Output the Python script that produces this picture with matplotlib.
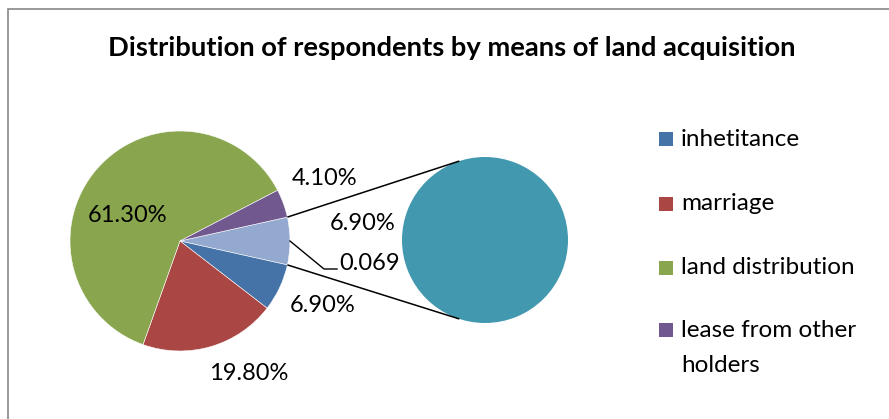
import matplotlib
matplotlib.use("Agg")
import matplotlib.pyplot as plt
from matplotlib.patches import Rectangle
import numpy as np

# ---- data ----
categories = ["inhetitance", "marriage", "land distribution", "lease from other\nholders"]
values = [6.9, 19.8, 61.3, 4.1]
value_labels = ["6.90%", "19.80%", "61.30%", "4.10%"]
other_value = 6.9
other_pct_label = "6.90%"
secondary_label = "0.069"

colors = ["#4572A7", "#AA4643", "#89A54E", "#71588F"]
other_color = "#93A9CF"
secondary_color = "#4198AF"

title = "Distribution of respondents by means of land acquisition"

plt.rcParams["font.family"] = ["Lato", "DejaVu Sans"]

W, H = 889, 419
fig = plt.figure(figsize=(W / 100, H / 100), dpi=100)
ax = fig.add_axes([0, 0, 1, 1])

# geometry in pixel units (y upwards)
main_c = (180, 178)
main_r = 110
sec_c = (485, 179)
sec_r = 83

# main pie: "other" slice first, centred on the right-hand side, clockwise
sizes = [other_value] + values
total = sum(sizes)
other_span = other_value / total * 360.0
start = other_span / 2.0
ax.pie(sizes, colors=[other_color] + colors, startangle=start,
       counterclock=False, center=main_c, radius=main_r,
       wedgeprops=dict(edgecolor="white", linewidth=0.4))

# secondary pie holding the "other" part
ax.pie([other_value], colors=[secondary_color], startangle=90,
       center=sec_c, radius=sec_r, wedgeprops=dict(linewidth=0))

# connector lines between the two pies
for sgn in (1, -1):
    a_main = np.deg2rad(sgn * start)
    a_sec = np.deg2rad(sgn * 108)
    p0 = (main_c[0] + main_r * np.cos(a_main), main_c[1] + main_r * np.sin(a_main))
    p1 = (sec_c[0] + sec_r * np.cos(a_sec), sec_c[1] + sec_r * np.sin(a_sec))
    ax.plot([p0[0], p1[0]], [p0[1], p1[1]], color="black", lw=1.1,
            solid_capstyle="butt")

# data labels
lab_fs = 17
label_pos = [(323, 113), (248.5, 46), (127.5, 203.5), (325, 240)]
for txt, (x, y) in zip(value_labels, label_pos):
    ax.text(x, y, txt, fontsize=lab_fs, ha="center", va="center", color="black")
ax.text(363, 195.5, other_pct_label, fontsize=lab_fs, ha="center", va="center")

# leader line + label for the secondary pie
lead = [(main_c[0] + main_r, main_c[1]), (324, 150), (337, 150)]
ax.plot([p[0] for p in lead], [p[1] for p in lead], color="black", lw=1.0)
ax.text(339, 155.5, secondary_label, fontsize=lab_fs, ha="left", va="center")

# legend
leg_y = [280, 215, 151, 89]
for name, col, y in zip(categories, colors, leg_y):
    ax.add_patch(Rectangle((659, y - 7), 14, 14, facecolor=col, edgecolor="none"))
    multi = "\n" in name
    ax.text(681, y + 10 if multi else y, name, fontsize=17.5, ha="left",
            va="top" if multi else "center", linespacing=1.85)

# title
ax.text(452, 371, title, fontsize=19.75, fontweight="bold", ha="center", va="center")

# chart frame
ax.add_patch(Rectangle((8, -20), W + 20, H - 9 + 20, facecolor="none",
                       edgecolor="#888888", lw=1.2))

ax.set_xlim(0, W)
ax.set_ylim(0, H)
ax.set_aspect("equal")
ax.axis("off")

fig.savefig("out.png", dpi=100)
